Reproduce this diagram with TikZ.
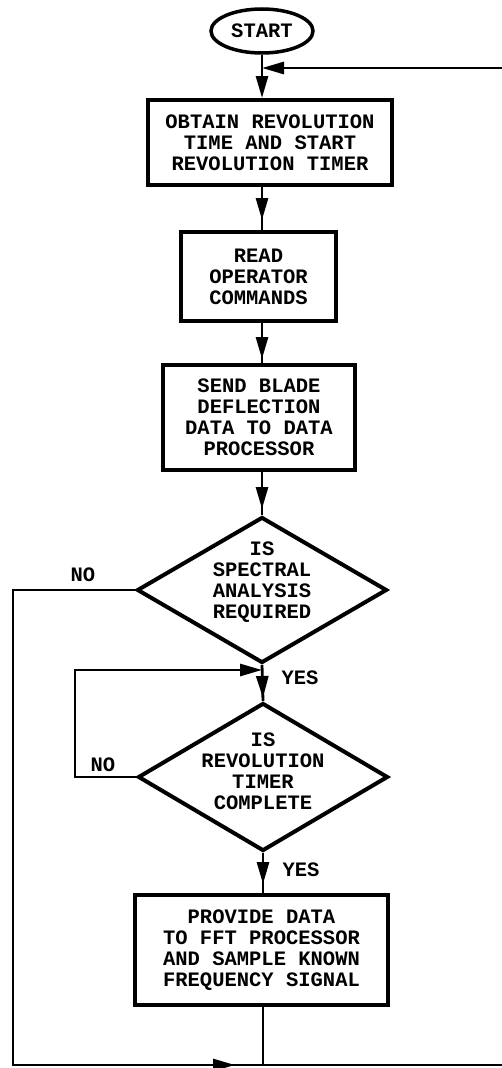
\documentclass[tikz,border=0pt]{standalone}
\usepackage{fontspec}
\setmonofont{Liberation Mono}
\usetikzlibrary{shapes.geometric,arrows.meta,decorations.markings,calc}
\begin{document}
\begin{tikzpicture}[x=1pt,y=-1pt,
  txt/.style={font=\fontsize{20.5}{21}\selectfont\ttfamily\bfseries, align=center, inner sep=0pt},
  box/.style={draw, line width=4pt, inner sep=0pt, txt},
  dia/.style={draw, diamond, line width=4pt, inner sep=0pt},
  conn/.style={line width=2.8pt},
  tip/.style={-{Triangle[length=22pt,width=12pt]}},
  midarr/.style={postaction={decorate}, decoration={markings, mark=at position #1 with {\arrow{Triangle[length=22pt,width=12pt]}}}},
  lbl/.style={txt}
]
\useasboundingbox (0,0) rectangle (502,1068);
\coordinate (cx) at (262,0);
\coordinate (L) at (13,0);
\coordinate (R) at (512,0);
\coordinate (bot) at (0,1065);
\coordinate (ret) at (0,68);
\coordinate (loopx) at (75,0);
\coordinate (loopy) at (0,670);

\node[draw, ellipse, line width=3.5pt, minimum width=102pt, minimum height=44pt, inner sep=0pt, txt] (start) at (262,31) {START};
\node[box, minimum width=244pt, minimum height=85pt] (b1) at (270,142.5) {OBTAIN REVOLUTION\\TIME AND START\\REVOLUTION TIMER};
\node[box, minimum width=155pt, minimum height=89pt] (b2) at (258.5,276.5) {READ\\OPERATOR\\COMMANDS};
\node[box, minimum width=192pt, minimum height=105pt] (b3) at (259,417.5) {SEND BLADE\\DEFLECTION\\DATA TO DATA\\PROCESSOR};
\node[dia, minimum width=250pt, minimum height=146pt] (d1) at (262,590) {};
\node[txt] (d1t) at (262,582) {IS\\SPECTRAL\\ANALYSIS\\REQUIRED};
\node[dia, minimum width=250pt, minimum height=148pt] (d2) at (263,777) {};
\node[txt] (d2t) at (263,771) {IS\\REVOLUTION\\TIMER\\COMPLETE};
\node[box, minimum width=253pt, minimum height=110pt] (b4) at (261.5,950) {PROVIDE DATA\\TO FFT PROCESSOR\\AND SAMPLE KNOWN\\FREQUENCY SIGNAL};

\node[lbl] (no1) at (83,575) {NO};
\node[lbl] (no2) at (103,765) {NO};
\node[lbl] (yes1) at (300,678) {YES};
\node[lbl] (yes2) at (301,870) {YES};

% main flow
\draw[conn, tip] (start.south -| cx) -- (cx |- b1.north);
\draw[conn, midarr=-10pt] (cx |- b1.south) -- (cx |- b2.north);
\draw[conn, midarr=-4pt] (cx |- b2.south) -- (cx |- b3.north);
\draw[conn, midarr=-6pt] (cx |- b3.south) -- (d1.north);
\draw[conn, midarr=-3pt] (d1.south) -- (d2.north);
\draw[conn, midarr=-9pt] (d2.south) -- (d2.south |- b4.north);
% NO loop of timer
\draw[conn, tip] (d2.west) -- (d2.west -| loopx) -- (loopx |- loopy) -- (d1.south |- loopy);
% NO branch of spectral analysis
\draw[conn, midarr=-28pt] (d1.west) -- (d1.west -| L) -- (L |- bot) -- (d2.south |- bot);
% return path
\draw[conn, tip] (d2.south |- b4.south) -- (d2.south |- bot) -- (R |- bot) -- (R |- ret) -- (cx |- ret);
\end{tikzpicture}
\end{document}
